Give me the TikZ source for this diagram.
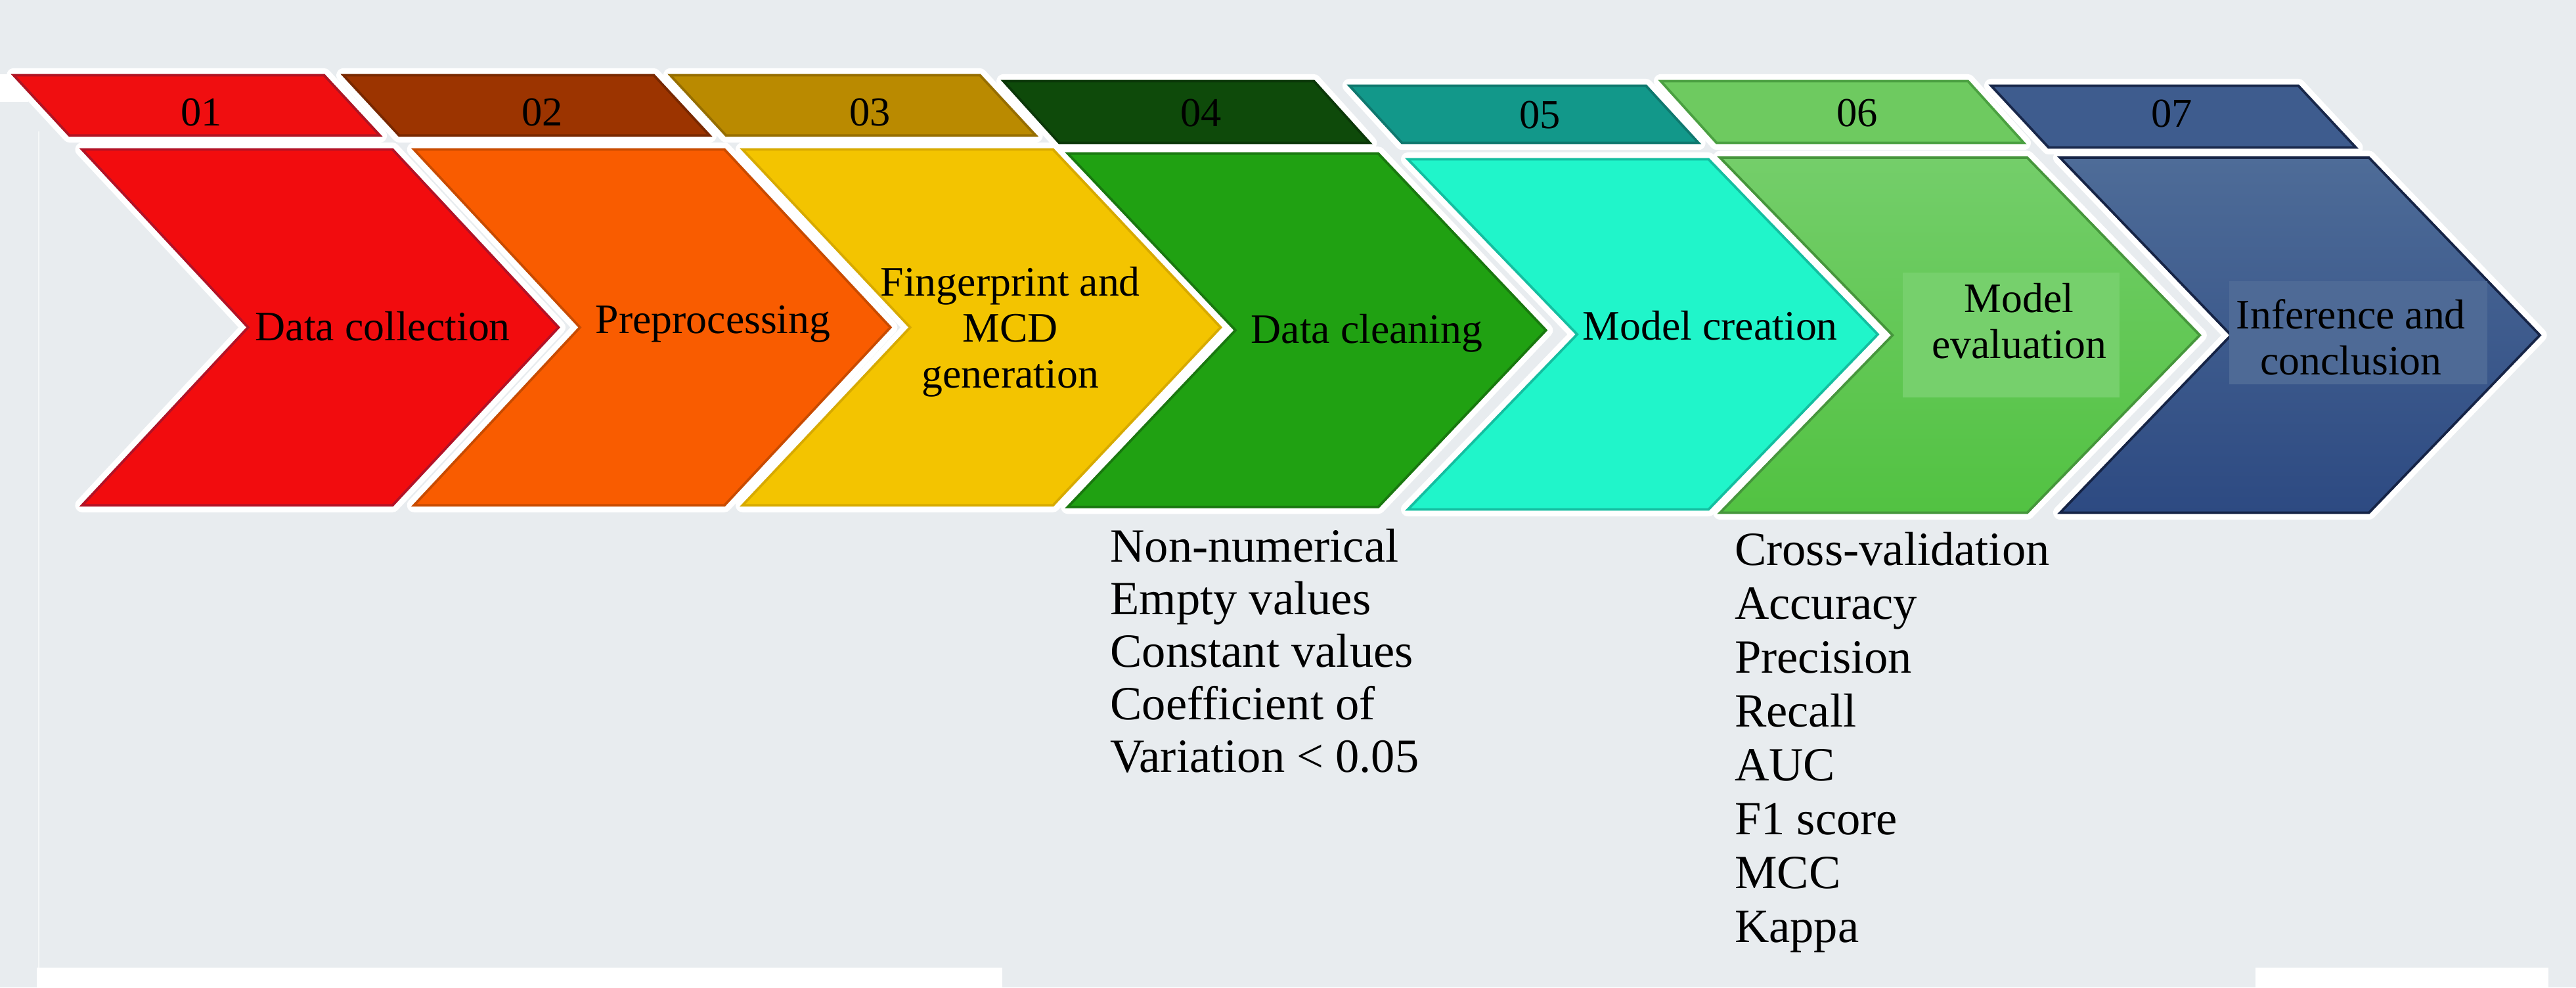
\documentclass[tikz,border=0pt]{standalone}
\usepackage{fontspec}
\setmainfont{Liberation Serif}
\definecolor{bg}{RGB}{232,236,239}
\definecolor{ch1}{RGB}{242,12,14}\definecolor{ch1d}{RGB}{178,18,38}
\definecolor{ch2}{RGB}{249,92,0}\definecolor{ch2d}{RGB}{200,75,0}
\definecolor{ch3}{RGB}{243,196,0}\definecolor{ch3d}{RGB}{215,170,0}
\definecolor{ch4}{RGB}{32,161,18}\definecolor{ch4d}{RGB}{25,120,15}
\definecolor{ch5}{RGB}{32,245,202}\definecolor{ch5d}{RGB}{20,190,160}
\definecolor{ch6t}{RGB}{116,206,106}\definecolor{ch6b}{RGB}{82,194,66}
\definecolor{ch6d}{RGB}{70,150,60}\definecolor{ch6l}{RGB}{118,208,108}
\definecolor{ch7t}{RGB}{78,108,152}\definecolor{ch7b}{RGB}{45,74,130}
\definecolor{ch7d}{RGB}{22,36,70}\definecolor{ch7l}{RGB}{78,106,150}
\definecolor{tb1}{RGB}{240,14,16}\definecolor{tb1d}{RGB}{175,20,35}
\definecolor{tb2}{RGB}{156,52,0}\definecolor{tb2d}{RGB}{120,40,0}
\definecolor{tb3}{RGB}{186,138,0}\definecolor{tb3d}{RGB}{150,110,0}
\definecolor{tb4}{RGB}{14,74,10}\definecolor{tb4d}{RGB}{10,55,8}
\definecolor{tb5}{RGB}{18,152,138}\definecolor{tb5d}{RGB}{15,120,110}
\definecolor{tb6}{RGB}{110,202,96}\definecolor{tb6d}{RGB}{75,160,65}
\definecolor{tb7}{RGB}{62,92,142}\definecolor{tb7d}{RGB}{25,40,75}
\tikzset{
 chev/.style n args={5}{insert path={(#1,#2) -- ({#1+#4},#2) -- ({#1+#4+#5},{(#2+#3)/2}) -- ({#1+#4},#3) -- (#1,#3) -- ({#1+#5},{(#2+#3)/2}) -- cycle}},
 tabp/.style n args={5}{insert path={(#1,#2) -- ({#1+#4},#2) -- ({#1+#4+#5},#3) -- ({#1+#5},#3) -- cycle}},
 halo/.style={draw=white, line width=8.5pt, line join=round},
 edgeln/.style={line width=1.5pt, line join=miter},
 lab/.style={inner sep=0pt, anchor=base, font=\fontsize{25.5}{28}\selectfont},
 num/.style={inner sep=0pt, anchor=base, font=\fontsize{25}{28}\selectfont},
 lst/.style={inner sep=0pt, anchor=base west, font=\fontsize{29}{32}\selectfont},
}
\begin{document}
\begin{tikzpicture}[x=1pt,y=-1pt]
\fill[bg] (0,0) rectangle (1568,601);
\useasboundingbox (0,0) rectangle (1568,601);
\fill[white] (22.4,589) rectangle (610,601);
\fill[white] (1373,589) rectangle (1551,601);
\fill[white] (0,45) rectangle (17,62);
\draw[white, opacity=.6, line width=1pt] (23.5,80) -- (23.5,589);
% halos
\path[halo, chev={50}{91}{307.5}{189}{101}];
\path[halo, chev={252}{91}{307.5}{189}{101}];
\path[halo, chev={452}{91}{307.5}{189}{102}];
\path[halo, chev={650}{93.5}{308.5}{189}{102}];
\path[halo, chev={857}{97}{310}{183}{103}];
\path[halo, chev={1047}{96}{312}{187}{105}];
\path[halo, chev={1254}{96}{312}{188}{104}];
\path[halo, tabp={8.3}{45.8}{82.5}{189}{34}];
\path[halo, tabp={209}{45.8}{82.5}{189}{34}];
\path[halo, tabp={408}{45.8}{82.5}{188.5}{34}];
\path[halo, tabp={610.8}{49.4}{87}{189}{34}];
\path[halo, tabp={821.4}{52.2}{87}{180.5}{32}];
\path[halo, tabp={1010.9}{49.4}{87}{187}{34}];
\path[halo, tabp={1212}{52.2}{89.8}{187}{35}];
% chevrons
\path[fill=ch1, draw=ch1d, edgeln, chev={50}{91}{307.5}{189}{101}];
\path[fill=ch2, draw=ch2d, edgeln, chev={252}{91}{307.5}{189}{101}];
\path[fill=ch3, draw=ch3d, edgeln, chev={452}{91}{307.5}{189}{102}];
\path[fill=ch4, draw=ch4d, edgeln, chev={650}{93.5}{308.5}{189}{102}];
\path[fill=ch5, draw=ch5d, edgeln, chev={857}{97}{310}{183}{103}];
\path[top color=ch6t, bottom color=ch6b, draw=ch6d, edgeln, chev={1047}{96}{312}{187}{105}];
\path[top color=ch7t, bottom color=ch7b, draw=ch7d, edgeln, chev={1254}{96}{312}{188}{104}];
% tabs
\path[fill=tb1, draw=tb1d, edgeln, tabp={8.3}{45.8}{82.5}{189}{34}];
\path[fill=tb2, draw=tb2d, edgeln, tabp={209}{45.8}{82.5}{189}{34}];
\path[fill=tb3, draw=tb3d, edgeln, tabp={408}{45.8}{82.5}{188.5}{34}];
\path[fill=tb4, draw=tb4d, edgeln, tabp={610.8}{49.4}{87}{189}{34}];
\path[fill=tb5, draw=tb5d, edgeln, tabp={821.4}{52.2}{87}{180.5}{32}];
\path[fill=tb6, draw=tb6d, edgeln, tabp={1010.9}{49.4}{87}{187}{34}];
\path[fill=tb7, draw=tb7d, edgeln, tabp={1212}{52.2}{89.8}{187}{35}];
% text panels
\fill[ch6l] (1158,166) rectangle (1290,242);
\fill[ch7l] (1357,171) rectangle (1514,234);
% numbers
\node[num] (n1) at (122.5,76.7) {01};
\node[num] (n2) at (330,76.5) {02};
\node[num] (n3) at (529.5,76.5) {03};
\node[num] (n4) at (731,77) {04};
\node[num] (n5) at (937.5,78) {05};
\node[num] (n6) at (1130.6,77) {06};
\node[num] (n7) at (1322,77.5) {07};
% labels
\node[lab] (t1) at (233,207.4) {Data collection};
\node[lab] (t2) at (434,203) {Preprocessing};
\node[lab] (t3) at (615,180) {\begin{tabular}[t]{@{}c@{}}Fingerprint and\\MCD\\generation\end{tabular}};
\node[lab] (t4) at (832,209) {Data cleaning};
\node[lab] (t5) at (1041,207) {Model creation};
\node[lab] (t6) at (1229,190) {\begin{tabular}[t]{@{}c@{}}Model\\evaluation\end{tabular}};
\node[lab] (t7) at (1431,200) {\begin{tabular}[t]{@{}c@{}}Inference and\\conclusion\end{tabular}};
% lists
\node[lst] (l4) at (675.6,342) {\begin{tabular}[t]{@{}l@{}}Non-numerical\\Empty values\\Constant values\\Coefficient of\\Variation < 0.05\end{tabular}};
\node[lst, font=\fontsize{29}{32.8}\selectfont] (l6) at (1055.7,344) {\begin{tabular}[t]{@{}l@{}}Cross-validation\\Accuracy\\Precision\\Recall\\AUC\\F1 score\\MCC\\Kappa\end{tabular}};
\end{tikzpicture}
\end{document}
